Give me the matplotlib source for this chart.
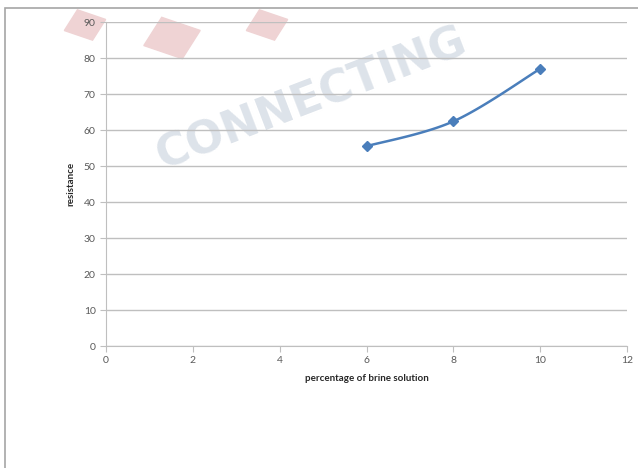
import numpy as np
import matplotlib.pyplot as plt
from matplotlib.patches import Rectangle, RegularPolygon

# brine concentration (%) vs measured resistance
brine_pct = [6, 8, 10]
resistance = [55.5, 62.4, 77.0]

x_ticks = [0, 2, 4, 6, 8, 10, 12]
y_ticks = [0, 10, 20, 30, 40, 50, 60, 70, 80, 90]

line_color = "#4a7ebb"
grid_color = "#bfbfbf"
tick_color = "#595959"


def smooth_curve(xs, ys, n=40):
    # cubic Bezier segments with tangents from neighbouring points (spreadsheet-style smoothing)
    pts = np.column_stack([xs, ys]).astype(float)
    padded = np.vstack([pts[0], pts, pts[-1]])
    t = np.linspace(0, 1, n)[:, None]
    out = []
    for i in range(len(pts) - 1):
        p0, p1, p2, p3 = padded[i], padded[i + 1], padded[i + 2], padded[i + 3]
        c1 = p1 + (p2 - p0) / 6
        c2 = p2 - (p3 - p1) / 6
        seg = ((1 - t) ** 3 * p1 + 3 * (1 - t) ** 2 * t * c1
               + 3 * (1 - t) * t ** 2 * c2 + t ** 3 * p2)
        out.append(seg)
    curve = np.vstack(out)
    return curve[:, 0], curve[:, 1]


plt.rcParams["font.family"] = ["Lato", "DejaVu Sans"]

fig = plt.figure(figsize=(6.38, 4.68), dpi=100)
ax = fig.add_axes([106 / 638, 1 - 346 / 468, (627 - 106) / 638, (346 - 22) / 468])
ax.set_zorder(2)

# chart frame
fig.patches.append(Rectangle((5 / 638, -0.2), 1.2, 1.2 - 8 / 468,
                             transform=fig.transFigure, fill=False,
                             edgecolor="#a6a6a6", linewidth=1.2))

# faint watermark behind the plot
for cx, cy, r in [(85, 25, 22), (172, 38, 30), (267, 25, 22)]:
    fig.patches.append(RegularPolygon((cx / 638, 1 - cy / 468), 4, radius=r / 638,
                                      orientation=0.35, transform=fig.transFigure,
                                      color="#efd3d4", zorder=0))
fig.text(150 / 638, 1 - 178 / 468, "CONNECTING", rotation=21,
         fontsize=32, fontweight="bold", color="#dde3ea",
         ha="left", va="bottom", family="DejaVu Sans", zorder=0)

cx, cy = smooth_curve(brine_pct, resistance)
ax.plot(cx, cy, color=line_color, linewidth=1.8, zorder=3)
ax.plot(brine_pct, resistance, linestyle="none", marker="D", markersize=5.5,
        color=line_color, zorder=4)

ax.set_xlim(0, 12)
ax.set_ylim(0, 90)
ax.set_xticks(x_ticks)
ax.set_yticks(y_ticks)
ax.yaxis.grid(True, color=grid_color, linewidth=1.0)
ax.set_axisbelow(True)
ax.patch.set_alpha(0)

for side in ("top", "right"):
    ax.spines[side].set_visible(False)
for side in ("left", "bottom"):
    ax.spines[side].set_color(grid_color)
ax.tick_params(axis="both", colors=grid_color, labelcolor=tick_color,
               labelsize=7.5, length=4, direction="out")

ax.set_xlabel("percentage of brine solution", fontsize=7, fontweight="bold",
              color="#262626", labelpad=6)
ax.set_ylabel("resistance", fontsize=7, fontweight="bold", color="#262626",
              labelpad=6)

fig.savefig("out.png", dpi=100)
